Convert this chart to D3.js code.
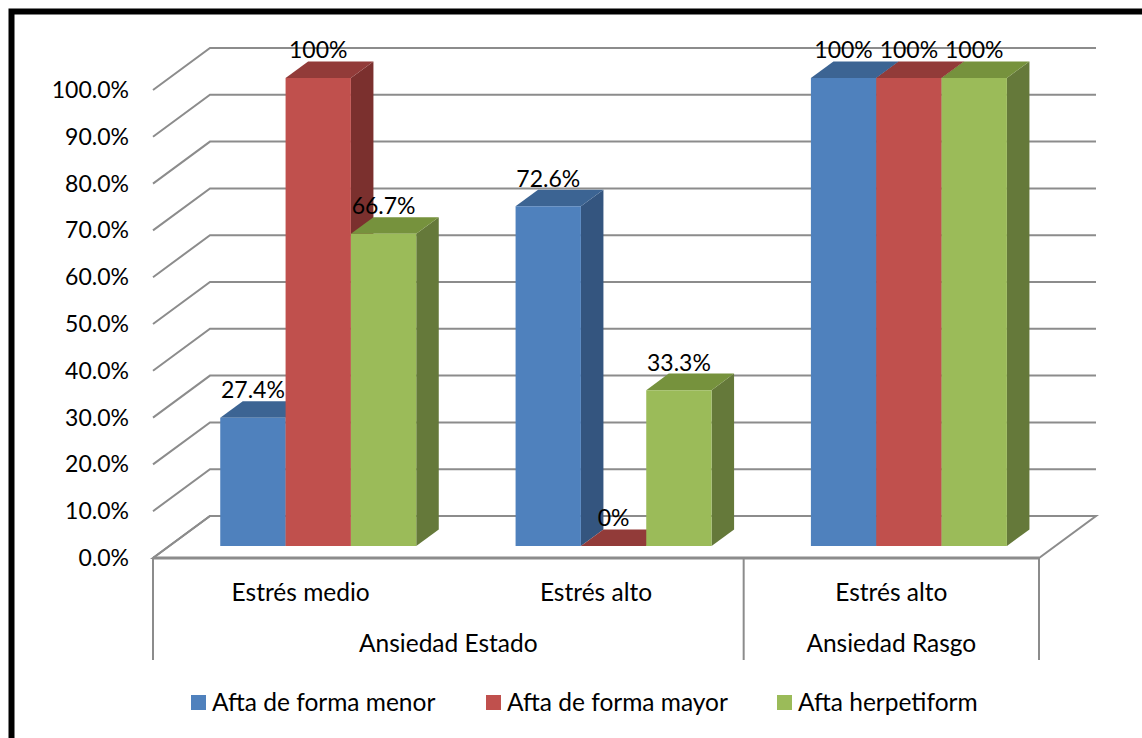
<!DOCTYPE html>
<html>
<head>
<meta charset="utf-8">
<script src="https://cdn.jsdelivr.net/npm/d3@7"></script>
<style>
    body { margin: 0; background: #fff; }
    svg text { font-family: Lato, "Noto Sans", sans-serif; fill: #000; }
</style>
</head>
<body>
<div id="chart"></div>
<script>
var categories = ['Estrés medio', 'Estrés alto', 'Estrés alto'];
var groups = ['Ansiedad Estado', 'Ansiedad Rasgo'];
var group_spans = [2, 1];
var series = ['Afta de forma menor', 'Afta de forma mayor', 'Afta herpetiform'];
var menor_values = [0.274, 0.726, 1.0];
var mayor_values = [1.0, 0.0, 1.0];
var herpetiform_values = [0.667, 0.333, 1.0];
var y_ticks = [0, 0.1, 0.2, 0.3, 0.4, 0.5, 0.6, 0.7, 0.8, 0.9, 1.0];

var WIDTH = 1142, HEIGHT = 738,
    NUM_FONT = 23, WORD_FONT = 24.5,
    DEPTH_X = 57, DEPTH_Y = -42,      // floor depth offset (front -> back wall)
    BAR_FRONT = 0.285, BAR_BACK = 0.68; // bar depth as fraction of floor depth

var COLORS = [
    { front: '#4f81bd', top: '#3c6493', side: '#34557f' },
    { front: '#c0504d', top: '#923b39', side: '#7b302e' },
    { front: '#9bbb59', top: '#76923d', side: '#65793a' }
];

var values = [menor_values, mayor_values, herpetiform_values];

var svg = d3.select('#chart').append('svg')
    .attr('width', WIDTH)
    .attr('height', HEIGHT);

// scales for the front plane of the chart
var x = d3.scaleBand().domain(d3.range(categories.length)).range([153, 1039]);
var x_inner = d3.scaleBand().domain(d3.range(series.length)).range([51, 247]);
var y = d3.scaleLinear().domain([0, 1]).range([558, 90]);

function shift(p, f) {
    /*
        move a front plane point [x, y] back by f of the floor depth
     */
    return [p[0] + f * DEPTH_X, p[1] + f * DEPTH_Y];
}

function poly(points) {
    return 'M' + points.map(function(p) { return p[0] + ',' + p[1]; }).join('L') + 'Z';
}

// frame
svg.append('rect')
    .attr('x', 11.5).attr('y', 11.5)
    .attr('width', WIDTH + 20).attr('height', HEIGHT + 20)
    .attr('fill', 'none')
    .attr('stroke', '#000')
    .attr('stroke-width', 6);

// floor
var x0 = x.range()[0], x1 = x.range()[1];
svg.append('path')
    .attr('d', poly([[x0, y(0)], [x1, y(0)], shift([x1, y(0)], 1), shift([x0, y(0)], 1)]))
    .attr('fill', '#fff')
    .attr('stroke', '#8c8c8c')
    .attr('stroke-width', 2);

// grid lines: diagonal on the side wall, horizontal on the back wall
var grid = svg.append('g').attr('class', 'grid')
    .attr('stroke', '#8c8c8c')
    .attr('stroke-width', 2)
    .attr('fill', 'none');

grid.selectAll('path')
    .data(y_ticks).enter()
    .append('path')
    .attr('d', function(t) {
        var a = [x0, y(t)], b = shift(a, 1), c = shift([x1, y(t)], 1);
        return 'M' + a + 'L' + b + 'L' + c;
    });

// category axis line (front edge of floor) and dividers
var axis = svg.append('g').attr('stroke', '#8c8c8c').attr('fill', 'none');
axis.append('line')
    .attr('x1', x0).attr('x2', x1)
    .attr('y1', y(0)).attr('y2', y(0))
    .attr('stroke-width', 3);

var divider_x = [x0];
var acc = 0;
group_spans.forEach(function(n) {
    acc += n;
    divider_x.push(x(acc - 1) + x.bandwidth());
});
axis.selectAll('.divider')
    .data(divider_x).enter()
    .append('line')
    .attr('class', 'divider')
    .attr('x1', function(d) { return d; })
    .attr('x2', function(d) { return d; })
    .attr('y1', y(0))
    .attr('y2', 660)
    .attr('stroke-width', 2);

// y axis labels
svg.append('g').selectAll('text')
    .data(y_ticks).enter()
    .append('text')
    .attr('x', 129)
    .attr('y', function(t) { return y(t) + 8; })
    .attr('text-anchor', 'end')
    .style('font-size', NUM_FONT + 'px')
    .text(d3.format('.1%'));

// bars
var bars = [];
categories.forEach(function(c, ci) {
    series.forEach(function(s, si) {
        bars.push({ ci: ci, si: si, value: values[si][ci] });
    });
});

var bar_g = svg.append('g').attr('class', 'bars');

bars.forEach(function(d) {
    var left = x(d.ci) + x_inner(d.si),
        right = left + x_inner.bandwidth();
    var fl = shift([left, y(0)], BAR_FRONT),
        fr = shift([right, y(0)], BAR_FRONT),
        tl = shift([left, y(d.value)], BAR_FRONT),
        tr = shift([right, y(d.value)], BAR_FRONT);
    var dz = BAR_BACK - BAR_FRONT;
    var g = bar_g.append('g');

    g.append('path')
        .attr('d', poly([fr, tr, shift(tr, dz), shift(fr, dz)]))
        .attr('fill', COLORS[d.si].side);
    g.append('path')
        .attr('d', poly([tl, tr, shift(tr, dz), shift(tl, dz)]))
        .attr('fill', COLORS[d.si].top);
    if (d.value > 0) {
        g.append('path')
            .attr('d', poly([fl, fr, tr, tl]))
            .attr('fill', COLORS[d.si].front);
    }
    d.label_x = (tl[0] + tr[0]) / 2;
    d.label_y = shift(tl, dz)[1] - 3;
});

// data labels
svg.append('g').selectAll('text')
    .data(bars).enter()
    .append('text')
    .attr('x', function(d) { return d.label_x; })
    .attr('y', function(d) { return d.label_y; })
    .attr('text-anchor', 'middle')
    .style('font-size', NUM_FONT + 'px')
    .text(function(d) { return d3.format('.1~%')(d.value); });

// category labels
svg.append('g').selectAll('text')
    .data(categories).enter()
    .append('text')
    .attr('x', function(c, i) { return x(i) + x.bandwidth() / 2; })
    .attr('y', 601)
    .attr('text-anchor', 'middle')
    .style('font-size', WORD_FONT + 'px')
    .text(function(c) { return c; });

// group labels
svg.append('g').selectAll('text')
    .data(groups).enter()
    .append('text')
    .attr('x', function(g, i) { return (divider_x[i] + divider_x[i + 1]) / 2; })
    .attr('y', 652)
    .attr('text-anchor', 'middle')
    .style('font-size', WORD_FONT + 'px')
    .text(function(g) { return g; });

// legend
var legend_x = [191, 486, 777];
var legend = svg.append('g').selectAll('g')
    .data(series).enter()
    .append('g')
    .attr('transform', function(s, i) { return 'translate(' + legend_x[i] + ',695)'; });

legend.append('rect')
    .attr('width', 15).attr('height', 15)
    .attr('fill', function(s, i) { return COLORS[i].front; });

legend.append('text')
    .attr('x', 21)
    .attr('y', 16)
    .style('font-size', WORD_FONT + 'px')
    .text(function(s) { return s; });
</script>
</body>
</html>
